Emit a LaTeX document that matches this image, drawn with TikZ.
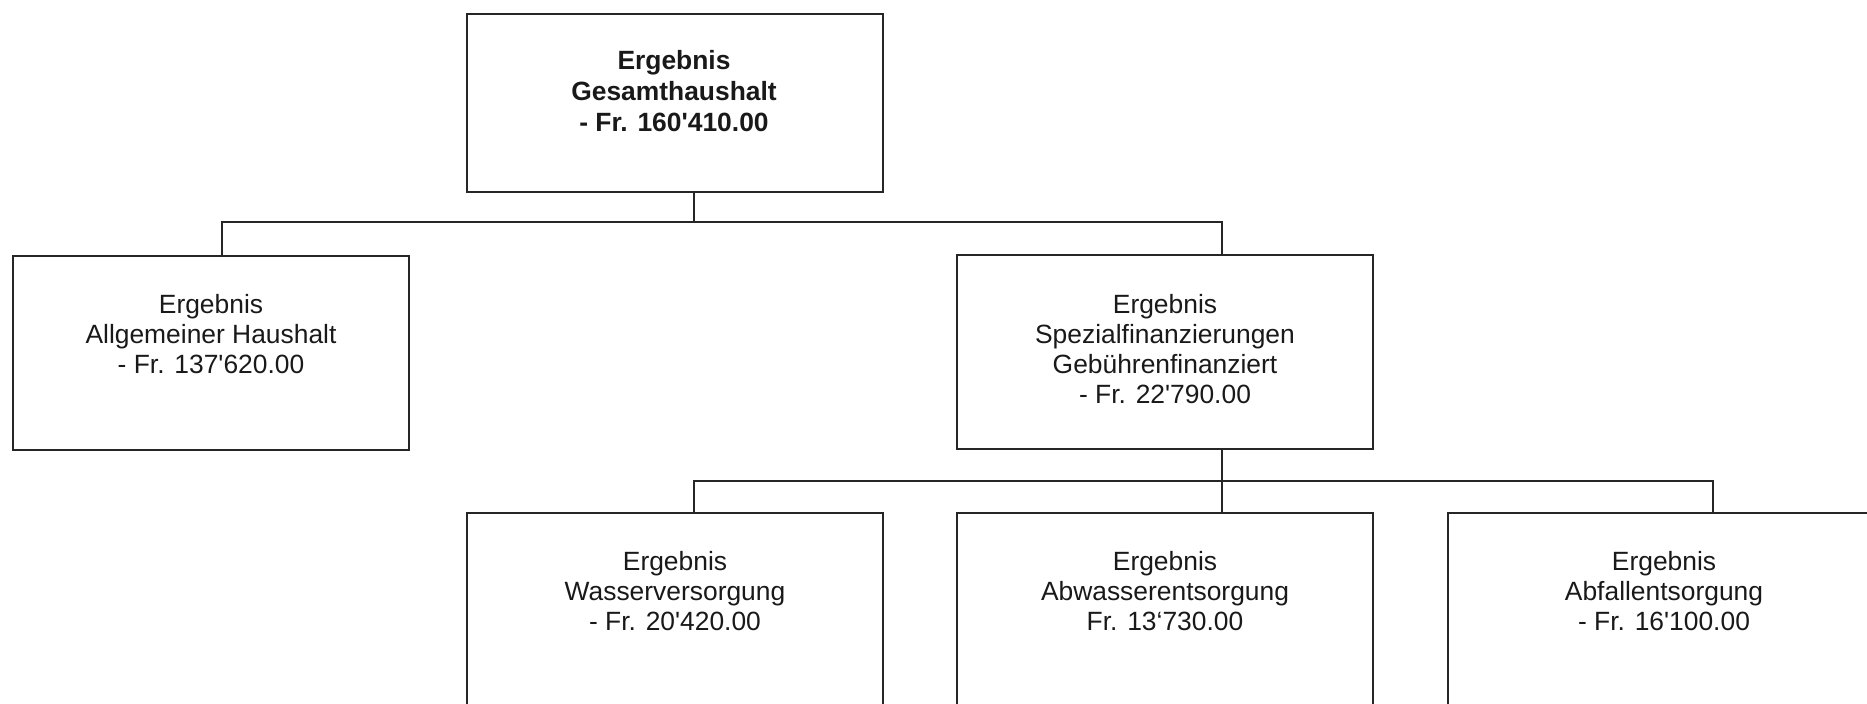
\documentclass[tikz,border=0pt]{standalone}
\usepackage{fontspec}
\newfontfamily\arial{Liberation Sans}
\usetikzlibrary{calc}
\begin{document}
\begin{tikzpicture}[x=0.5pt,y=-0.5pt,
  box/.style={draw=black!85, line width=1pt, inner sep=0pt, outer sep=0pt, minimum width=208pt},
  txt/.style={anchor=north, inner sep=0pt, align=center, font=\arial\fontsize{13.2pt}{15pt}\selectfont, text=black!90},
  conn/.style={draw=black!85, line width=1pt}]
\useasboundingbox (0,0) rectangle (1867,704);
\clip (0,0) rectangle (1867,704);
% boxes
\node[box, minimum height=89pt] (top) at (675,103) {};
\node[box, minimum height=97pt, minimum width=198pt] (left) at (211,353) {};
\node[box, minimum height=97pt] (spez) at (1165,352) {};
\node[box, minimum height=130pt] (wass) at (675,643) {};
\node[box, minimum height=130pt] (abw) at (1165,643) {};
\node[box, minimum height=130pt, minimum width=216pt] (abf) at (1664,643) {};
% texts
\node[txt, font=\arial\bfseries\fontsize{13.2pt}{15.4pt}\selectfont] (ttop) at (674,50) {Ergebnis\\Gesamthaushalt\\- Fr. 160'410.00};
\node[txt] (tleft) at (211,293.5) {Ergebnis\\Allgemeiner Haushalt\\- Fr. 137'620.00};
\node[txt] (tspez) at (1165,293.5) {Ergebnis\\Spezialfinanzierungen\\Gebührenfinanziert\\- Fr. 22'790.00};
\node[txt] (twass) at (675,550.5) {Ergebnis\\Wasserversorgung\\- Fr. 20'420.00};
\node[txt] (tabw) at (1165,550.5) {Ergebnis\\Abwasserentsorgung\\Fr. 13‘730.00};
\node[txt] (tabf) at (1664,550.5) {Ergebnis\\Abfallentsorgung\\- Fr. 16'100.00};
% connectors level 1
\draw[conn] ($(top.south)+(19,0)$) -- ++(0,30) coordinate (b1);
\draw[conn] ($(left.north)+(11,0)$) |- (b1) -| ($(spez.north)+(57,0)$);
% connectors level 2
\draw[conn] ($(spez.south)+(57,0)$) -- ($(abw.north)+(57,0)$);
\coordinate (b2) at ($(spez.south)+(57,32)$);
\draw[conn] ($(wass.north)+(19,0)$) |- (b2) -| ($(abf.north)+(49,0)$);
\end{tikzpicture}
\end{document}
